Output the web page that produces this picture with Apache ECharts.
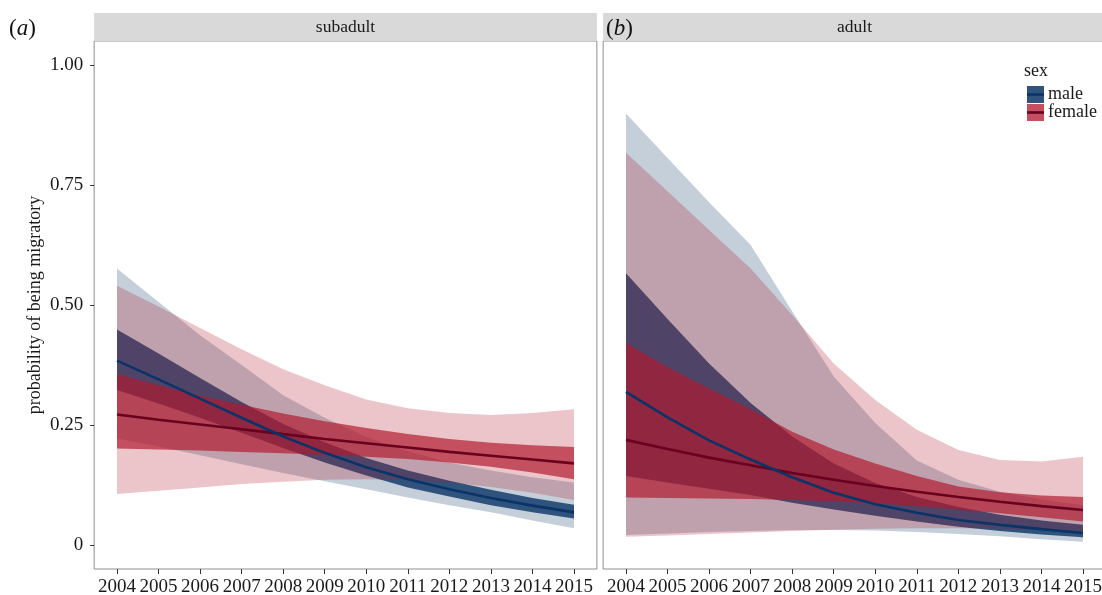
<!DOCTYPE html>
<html><head><meta charset="utf-8">
<script src="https://cdn.jsdelivr.net/npm/echarts@6/dist/echarts.min.js"></script>
<style>html,body{margin:0;padding:0;background:#fff}#c{width:1102px;height:595px}</style>
</head><body><div id="c"></div>
<script>
// ---------------- data ----------------
const years = [2004, 2005, 2006, 2007, 2008, 2009, 2010, 2011, 2012, 2013, 2014, 2015];
const yTicks = [0, 0.25, 0.5, 0.75, 1];
const panelTitles = ['subadult', 'adult'];
const panelTags = ['a', 'b'];
const sexes = ['male', 'female'];

// subadult
const subMaleFit   = [0.384, 0.345, 0.305, 0.265, 0.226, 0.192, 0.162, 0.137, 0.116, 0.098, 0.082, 0.068];
const subMaleInLo  = [0.323, 0.295, 0.265, 0.234, 0.202, 0.172, 0.145, 0.120, 0.101, 0.083, 0.068, 0.055];
const subMaleInHi  = [0.449, 0.399, 0.348, 0.298, 0.252, 0.214, 0.181, 0.155, 0.134, 0.115, 0.098, 0.084];
const subMaleOutLo = [0.222, 0.205, 0.187, 0.168, 0.150, 0.133, 0.116, 0.099, 0.083, 0.068, 0.051, 0.035];
const subMaleOutHi = [0.576, 0.506, 0.437, 0.375, 0.312, 0.265, 0.225, 0.195, 0.172, 0.155, 0.141, 0.130];
const subFemFit    = [0.272, 0.261, 0.251, 0.241, 0.231, 0.221, 0.212, 0.203, 0.194, 0.186, 0.178, 0.170];
const subFemInLo   = [0.201, 0.199, 0.197, 0.194, 0.191, 0.188, 0.184, 0.179, 0.172, 0.163, 0.151, 0.137];
const subFemInHi   = [0.356, 0.333, 0.311, 0.292, 0.274, 0.258, 0.244, 0.231, 0.221, 0.213, 0.208, 0.204];
const subFemOutLo  = [0.106, 0.113, 0.120, 0.127, 0.132, 0.136, 0.137, 0.135, 0.130, 0.121, 0.109, 0.094];
const subFemOutHi  = [0.540, 0.497, 0.452, 0.408, 0.366, 0.333, 0.303, 0.285, 0.275, 0.271, 0.275, 0.283];

// adult
const adMaleFit    = [0.319, 0.266, 0.218, 0.178, 0.141, 0.109, 0.085, 0.067, 0.052, 0.042, 0.033, 0.025];
const adMaleInLo   = [0.144, 0.130, 0.117, 0.104, 0.088, 0.074, 0.061, 0.049, 0.038, 0.029, 0.022, 0.016];
const adMaleInHi   = [0.566, 0.471, 0.378, 0.296, 0.226, 0.170, 0.129, 0.100, 0.079, 0.063, 0.051, 0.042];
const adMaleOutLo  = [0.021, 0.024, 0.027, 0.029, 0.031, 0.031, 0.030, 0.027, 0.023, 0.018, 0.012, 0.007];
const adMaleOutHi  = [0.899, 0.806, 0.714, 0.625, 0.487, 0.351, 0.254, 0.176, 0.136, 0.111, 0.095, 0.083];
const adFemFit     = [0.219, 0.200, 0.182, 0.166, 0.150, 0.136, 0.123, 0.111, 0.100, 0.090, 0.081, 0.073];
const adFemInLo    = [0.099, 0.098, 0.097, 0.096, 0.094, 0.091, 0.087, 0.081, 0.074, 0.066, 0.058, 0.049];
const adFemInHi    = [0.421, 0.371, 0.326, 0.283, 0.236, 0.199, 0.170, 0.144, 0.122, 0.110, 0.103, 0.100];
const adFemOutLo   = [0.017, 0.020, 0.023, 0.026, 0.029, 0.032, 0.034, 0.035, 0.035, 0.034, 0.031, 0.028];
const adFemOutHi   = [0.817, 0.737, 0.656, 0.576, 0.479, 0.378, 0.302, 0.240, 0.198, 0.177, 0.174, 0.184];

// ---------------- style ----------------
const FONT = '"Liberation Serif", "Times New Roman", serif';
const MALE = '5,48,97', FEMALE = '176,24,44';
const maleOut = 'rgba(' + MALE + ',0.23)', maleIn = 'rgba(' + MALE + ',0.78)';
const femOut = 'rgba(' + FEMALE + ',0.25)', femIn = 'rgba(' + FEMALE + ',0.68)';
const maleLine = '#0a3468', femLine = '#68001f';

const panels = [
  {male: [subMaleOutLo, subMaleOutHi, subMaleInLo, subMaleInHi, subMaleFit],
   fem:  [subFemOutLo, subFemOutHi, subFemInLo, subFemInHi, subFemFit]},
  {male: [adMaleOutLo, adMaleOutHi, adMaleInLo, adMaleInHi, adMaleFit],
   fem:  [adFemOutLo, adFemOutHi, adFemInLo, adFemInHi, adFemFit]}
];

function band(g, lo, hi, color, name) {
  return {
    type: 'custom', name: name, xAxisIndex: g, yAxisIndex: g,
    data: [[years[0], lo[0]]], encode: {x: 0, y: 1}, silent: true,
    renderItem: function (params, api) {
      const pts = [];
      for (let i = 0; i < years.length; i++) pts.push(api.coord([years[i], hi[i]]));
      for (let i = years.length - 1; i >= 0; i--) pts.push(api.coord([years[i], lo[i]]));
      return {type: 'polygon', shape: {points: pts}, style: {fill: color, stroke: null}};
    }
  };
}
function line(g, fit, color, name) {
  return {
    type: 'line', name: name, xAxisIndex: g, yAxisIndex: g,
    data: years.map((y, i) => [y, fit[i]]), showSymbol: false, symbol: 'none',
    lineStyle: {color: color, width: 2.6}, silent: true, z: 3
  };
}

const series = [];
panels.forEach((p, g) => {
  series.push(band(g, p.male[0], p.male[1], maleOut, 'male'));
  series.push(band(g, p.male[2], p.male[3], maleIn, 'male'));
  series.push(band(g, p.fem[0], p.fem[1], femOut, 'female'));
  series.push(band(g, p.fem[2], p.fem[3], femIn, 'female'));
  series.push(line(g, p.fem[4], femLine, 'female'));
  series.push(line(g, p.male[4], maleLine, 'male'));
});

const gridW = 502.7, gridH = 528, gridTop = 41;
const gridLefts = [94.15, 603.15];

const grids = gridLefts.map(l => ({left: l, top: gridTop, width: gridW, height: gridH,
  outerBoundsMode: 'none', containLabel: false,
  show: true, borderColor: '#8f8f8f', borderWidth: 1, backgroundColor: '#fff'}));

const xAxes = gridLefts.map((l, g) => ({
  type: 'value', gridIndex: g, min: 2003.45, max: 2015.55, position: 'bottom',
  splitLine: {show: false}, axisLine: {show: false, onZero: false},
  axisTick: {show: true, length: 5, lineStyle: {color: '#333', width: 1}, customValues: years},
  axisLabel: {customValues: years, fontFamily: FONT, fontSize: 19, color: '#1a1a1a', margin: 9,
    formatter: v => String(Math.round(v))}
}));
const yAxes = gridLefts.map((l, g) => ({
  type: 'value', gridIndex: g, min: -0.05, max: 1.05, position: 'left',
  splitLine: {show: false}, axisLine: {show: false, onZero: false},
  axisTick: {show: g === 0, length: 4, lineStyle: {color: '#333', width: 1}, customValues: yTicks},
  axisLabel: {show: g === 0, customValues: yTicks, fontFamily: FONT, fontSize: 19, color: '#1a1a1a', margin: 11,
    formatter: v => (v === 0 ? '0' : v.toFixed(2))}
}));

const graphics = [];
gridLefts.forEach((l, g) => {
  graphics.push({type: 'rect', shape: {x: l, y: 13, width: gridW, height: gridTop - 13},
    style: {fill: '#d9d9d9'}, silent: true, z: 1});
  graphics.push({type: 'text', x: l + gridW / 2, y: 27.5, silent: true, z: 2,
    style: {text: panelTitles[g], font: '17.5px ' + FONT, fill: '#1a1a1a', align: 'center', verticalAlign: 'middle'}});
});
// panel tags (a) (b)
[[9, panelTags[0]], [606, panelTags[1]]].forEach(t => {
  graphics.push({type: 'text', x: t[0], y: 29, silent: true, z: 2,
    style: {text: '{p|(}{i|' + t[1] + '}{p|)}', verticalAlign: 'middle', align: 'left',
      rich: {p: {font: '23px ' + FONT, fill: '#111'}, i: {font: 'italic 23px ' + FONT, fill: '#111'}}}});
});
// y axis title
graphics.push({type: 'text', x: 35, y: 305, rotation: Math.PI / 2, silent: true, z: 2,
  style: {text: 'probability of being migratory', font: '18px ' + FONT, fill: '#1a1a1a', align: 'center', verticalAlign: 'middle'}});
// legend
graphics.push({type: 'text', x: 1024, y: 71, silent: true, z: 5,
  style: {text: 'sex', font: '18px ' + FONT, fill: '#1a1a1a', align: 'left', verticalAlign: 'middle'}});
const keys = [[86, maleOut, maleIn, maleLine, sexes[0]], [104, femOut, femIn, femLine, sexes[1]]];
keys.forEach(k => {
  graphics.push({type: 'rect', shape: {x: 1027, y: k[0], width: 17, height: 17}, style: {fill: k[1]}, z: 5, silent: true});
  graphics.push({type: 'rect', shape: {x: 1027, y: k[0], width: 17, height: 17}, style: {fill: k[2]}, z: 5, silent: true});
  graphics.push({type: 'line', shape: {x1: 1027, y1: k[0] + 8.5, x2: 1044, y2: k[0] + 8.5},
    style: {stroke: k[3], lineWidth: 2.6}, z: 6, silent: true});
  graphics.push({type: 'text', x: 1048, y: k[0] + 8.5, silent: true, z: 6,
    style: {text: k[4], font: '18px ' + FONT, fill: '#1a1a1a', align: 'left', verticalAlign: 'middle'}});
});

const chart = echarts.init(document.getElementById('c'), null, {renderer: 'canvas'});
chart.setOption({
  backgroundColor: '#fff',
  animation: false,
  grid: grids,
  xAxis: xAxes,
  yAxis: yAxes,
  series: series,
  graphic: graphics
});
</script>
</body></html>
